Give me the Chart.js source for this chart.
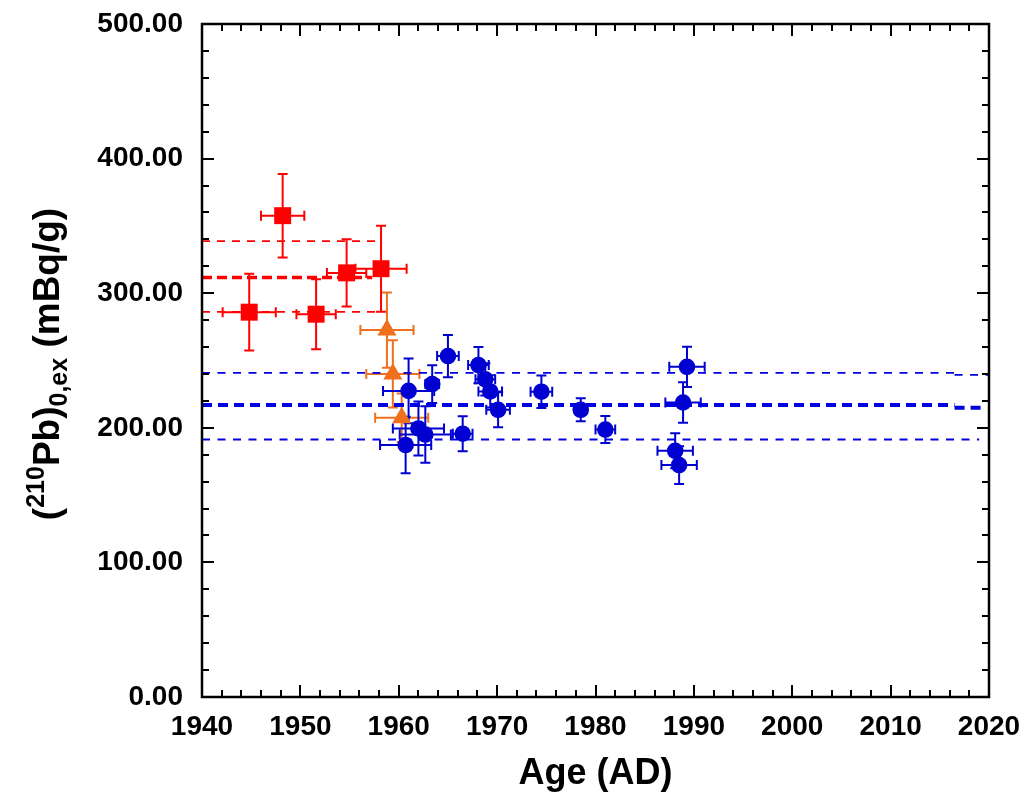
<!DOCTYPE html>
<html><head><meta charset="utf-8">
<script src="https://cdn.jsdelivr.net/npm/chart.js@4.4.0/dist/chart.umd.min.js"></script>
<style>html,body{margin:0;padding:0;background:#fff}#wrap{width:1026px;height:803px;position:relative}</style>
</head><body><div id="wrap"><canvas id="c" width="1026" height="803"></canvas></div>
<script>
// ---- data ----
const xTickLabels = ['1940','1950','1960','1970','1980','1990','2000','2010','2020'];
const yTickLabels = ['0.00','100.00','200.00','300.00','400.00','500.00'];

const redAge   = [1944.8, 1948.2, 1951.6, 1954.7, 1958.2];
const redPb    = [285.9, 357.6, 284.4, 315.1, 318.2];
const redAgeErr= [2.7, 2.2, 2.0, 2.0, 2.6];
const redPbErr = [28.5, 31, 26, 25, 32];

const orAge    = [1958.8, 1959.4, 1960.3];
const orPb     = [272.6, 240.0, 207.5];
const orAgeErr = [2.7, 2.7, 2.7];
const orPbErr  = [28, 25, 18];

const blueAge   = [1960.7, 1961.0, 1962.0, 1962.7, 1963.4, 1965.0, 1966.5, 1968.1, 1968.8, 1969.3, 1970.1, 1974.5, 1978.5, 1981.0, 1988.1, 1988.5, 1988.9, 1989.3];
const bluePb    = [187.2, 227.4, 199.5, 195.0, 232.5, 253.3, 195.6, 246.6, 236.0, 227.0, 213.4, 226.8, 213.4, 198.7, 182.9, 172.3, 218.8, 245.3];
const blueAgeErr= [2.6, 2.6, 2.6, 2.6, 0.7, 1.1, 1.0, 1.05, 1.0, 1.2, 1.2, 1.1, 0.6, 1.0, 1.8, 1.8, 1.8, 1.8];
const bluePbErr = [21, 24, 20, 21, 14, 15.7, 13, 13.5, 12, 12, 13, 12, 8.5, 10, 13, 14, 15, 15];

const redMeanLine  = {x:[1940, 1957.3], y:[311.6, 311.6]};
const redUpperLine = {x:[1940, 1958.2], y:[338.7, 338.7]};
const redLowerLine = {x:[1940, 1958.2], y:[286.1, 286.1]};
const blueMeanLineA  = {x:[1940, 2016.5], y:[216.9, 216.9]};
const blueMeanLineB  = {x:[2016.5, 2019.6], y:[214.9, 214.9]};
const blueUpperLineA = {x:[1940, 2016.5], y:[240.8, 240.8]};
const blueUpperLineB = {x:[2016.5, 2020], y:[239.3, 239.3]};
const blueLowerLine  = {x:[1940, 2019], y:[191.3, 191.3]};

// ---- colors ----
const RED = '#ff0000', ORANGE = '#f0701e', BLUE = '#0000d0', BLUE_LINE = '#0000e0';
const FONT = "'Liberation Sans', Arial, Helvetica, sans-serif";

const pts = (xs, ys) => xs.map((x, i) => ({x, y: ys[i]}));
const lineDs = (l, color, width, dash) => ({
  type: 'line', data: pts(l.x, l.y), borderColor: color, borderWidth: width,
  borderDash: dash, pointRadius: 0, fill: false, showLine: true, tension: 0
});

const errorSets = [
  {x: redAge, y: redPb, ex: redAgeErr, ey: redPbErr, color: RED},
  {x: orAge, y: orPb, ex: orAgeErr, ey: orPbErr, color: ORANGE},
  {x: blueAge, y: bluePb, ex: blueAgeErr, ey: bluePbErr, color: BLUE}
];

const errorBars = {
  id: 'errorBars',
  beforeDatasetsDraw(chart) {
    const ctx = chart.ctx, xs = chart.scales.x, ys = chart.scales.y;
    ctx.save();
    ctx.lineWidth = 2;
    const cap = 5;
    errorSets.forEach(s => {
      ctx.strokeStyle = s.color;
      s.x.forEach((xv, i) => {
        const px = xs.getPixelForValue(xv), py = ys.getPixelForValue(s.y[i]);
        const x1 = xs.getPixelForValue(xv - s.ex[i]), x2 = xs.getPixelForValue(xv + s.ex[i]);
        const y1 = ys.getPixelForValue(s.y[i] + s.ey[i]), y2 = ys.getPixelForValue(s.y[i] - s.ey[i]);
        ctx.beginPath();
        ctx.moveTo(x1, py); ctx.lineTo(x2, py);
        ctx.moveTo(x1, py - cap); ctx.lineTo(x1, py + cap);
        ctx.moveTo(x2, py - cap); ctx.lineTo(x2, py + cap);
        ctx.moveTo(px, y1); ctx.lineTo(px, y2);
        ctx.moveTo(px - cap, y1); ctx.lineTo(px + cap, y1);
        ctx.moveTo(px - cap, y2); ctx.lineTo(px + cap, y2);
        ctx.stroke();
      });
    });
    ctx.restore();
  }
};

const frameAndTitles = {
  id: 'frameAndTitles',
  afterDraw(chart) {
    const ctx = chart.ctx, a = chart.chartArea, xs = chart.scales.x, ys = chart.scales.y;
    ctx.save();
    ctx.strokeStyle = '#000';
    ctx.lineWidth = 2;
    ctx.beginPath();
    for (let v = 1940; v <= 2020; v += 2) {
      const px = Math.round(xs.getPixelForValue(v));
      const len = (v % 10 === 0) ? 12 : 7;
      ctx.moveTo(px, a.bottom); ctx.lineTo(px, a.bottom - len);
      ctx.moveTo(px, a.top); ctx.lineTo(px, a.top + len);
    }
    for (let v = 0; v <= 500; v += 20) {
      const py = Math.round(ys.getPixelForValue(v));
      const len = (v % 100 === 0) ? 12 : 7;
      ctx.moveTo(a.left, py); ctx.lineTo(a.left + len, py);
      ctx.moveTo(a.right, py); ctx.lineTo(a.right - len, py);
    }
    ctx.stroke();
    ctx.lineWidth = 2.5;
    ctx.strokeRect(a.left, a.top, a.right - a.left, a.bottom - a.top);

    // x title
    ctx.fillStyle = '#000';
    ctx.font = 'bold 36px ' + FONT;
    ctx.textAlign = 'center';
    ctx.textBaseline = 'alphabetic';
    ctx.fillText('Age (AD)', (a.left + a.right) / 2, 784);

    // y title with super/subscripts
    const big = 'bold 37px ' + FONT, small = 'bold 25px ' + FONT;
    const parts = [
      {t: '(', f: big, dy: 0},
      {t: '210', f: small, dy: -15},
      {t: 'Pb)', f: big, dy: 0},
      {t: '0,ex', f: small, dy: 8},
      {t: ' (mBq/g)', f: big, dy: 0}
    ];
    let total = 0;
    parts.forEach(p => { ctx.font = p.f; p.w = ctx.measureText(p.t).width; total += p.w; });
    ctx.translate(59, 364);
    ctx.rotate(-Math.PI / 2);
    ctx.textAlign = 'left';
    let cx = -total / 2;
    parts.forEach(p => { ctx.font = p.f; ctx.fillText(p.t, cx, p.dy); cx += p.w; });
    ctx.restore();
  }
};

const chart = new Chart(document.getElementById('c'), {
  type: 'scatter',
  data: {
    datasets: [
      {label: 'red', data: pts(redAge, redPb), pointStyle: 'rect', pointRadius: 12, pointHoverRadius: 12,
       backgroundColor: RED, borderColor: RED, borderWidth: 0},
      {label: 'orange', data: pts(orAge, orPb), pointStyle: 'triangle', pointRadius: 11, pointHoverRadius: 11,
       backgroundColor: ORANGE, borderColor: ORANGE, borderWidth: 0},
      {label: 'blue', data: pts(blueAge, bluePb), pointStyle: 'circle', pointRadius: 8.3, pointHoverRadius: 8.3,
       backgroundColor: BLUE, borderColor: BLUE, borderWidth: 0},
      lineDs(redMeanLine, RED, 3.5, [10, 5]),
      lineDs(redUpperLine, RED, 1.8, [8, 7]),
      lineDs(redLowerLine, RED, 1.8, [8, 7]),
      lineDs(blueMeanLineA, BLUE_LINE, 4, [10, 6]),
      lineDs(blueMeanLineB, BLUE_LINE, 4, [10, 6]),
      lineDs(blueUpperLineA, BLUE_LINE, 1.8, [8, 7.5]),
      lineDs(blueUpperLineB, BLUE_LINE, 1.8, [8, 7.5]),
      lineDs(blueLowerLine, BLUE_LINE, 1.8, [8, 7.5])
    ]
  },
  options: {
    responsive: false,
    animation: false,
    events: [],
    layout: {padding: {left: 0, top: 24, right: 37, bottom: 0}},
    plugins: {legend: {display: false}, tooltip: {enabled: false}},
    scales: {
      x: {
        type: 'linear', min: 1940, max: 2020,
        grid: {display: false, drawTicks: false},
        border: {display: false},
        ticks: {
          stepSize: 10, padding: 13, color: '#000', maxRotation: 0,
          font: {family: FONT, size: 28, weight: 'bold'},
          callback: (v) => xTickLabels[Math.round((v - 1940) / 10)]
        },
        afterFit(s) { s.height = 106; s.paddingLeft = 0; s.paddingRight = 0; s.paddingTop = 0; s.paddingBottom = 0; }
      },
      y: {
        type: 'linear', min: 0, max: 500,
        grid: {display: false, drawTicks: false},
        border: {display: false},
        ticks: {
          stepSize: 100, padding: 19, color: '#000',
          font: {family: FONT, size: 28, weight: 'bold'},
          callback: (v) => yTickLabels[Math.round(v / 100)]
        },
        afterFit(s) { s.width = 202; s.paddingLeft = 0; s.paddingRight = 0; s.paddingTop = 0; s.paddingBottom = 0; }
      }
    }
  },
  plugins: [errorBars, frameAndTitles]
});
</script>
</body></html>
